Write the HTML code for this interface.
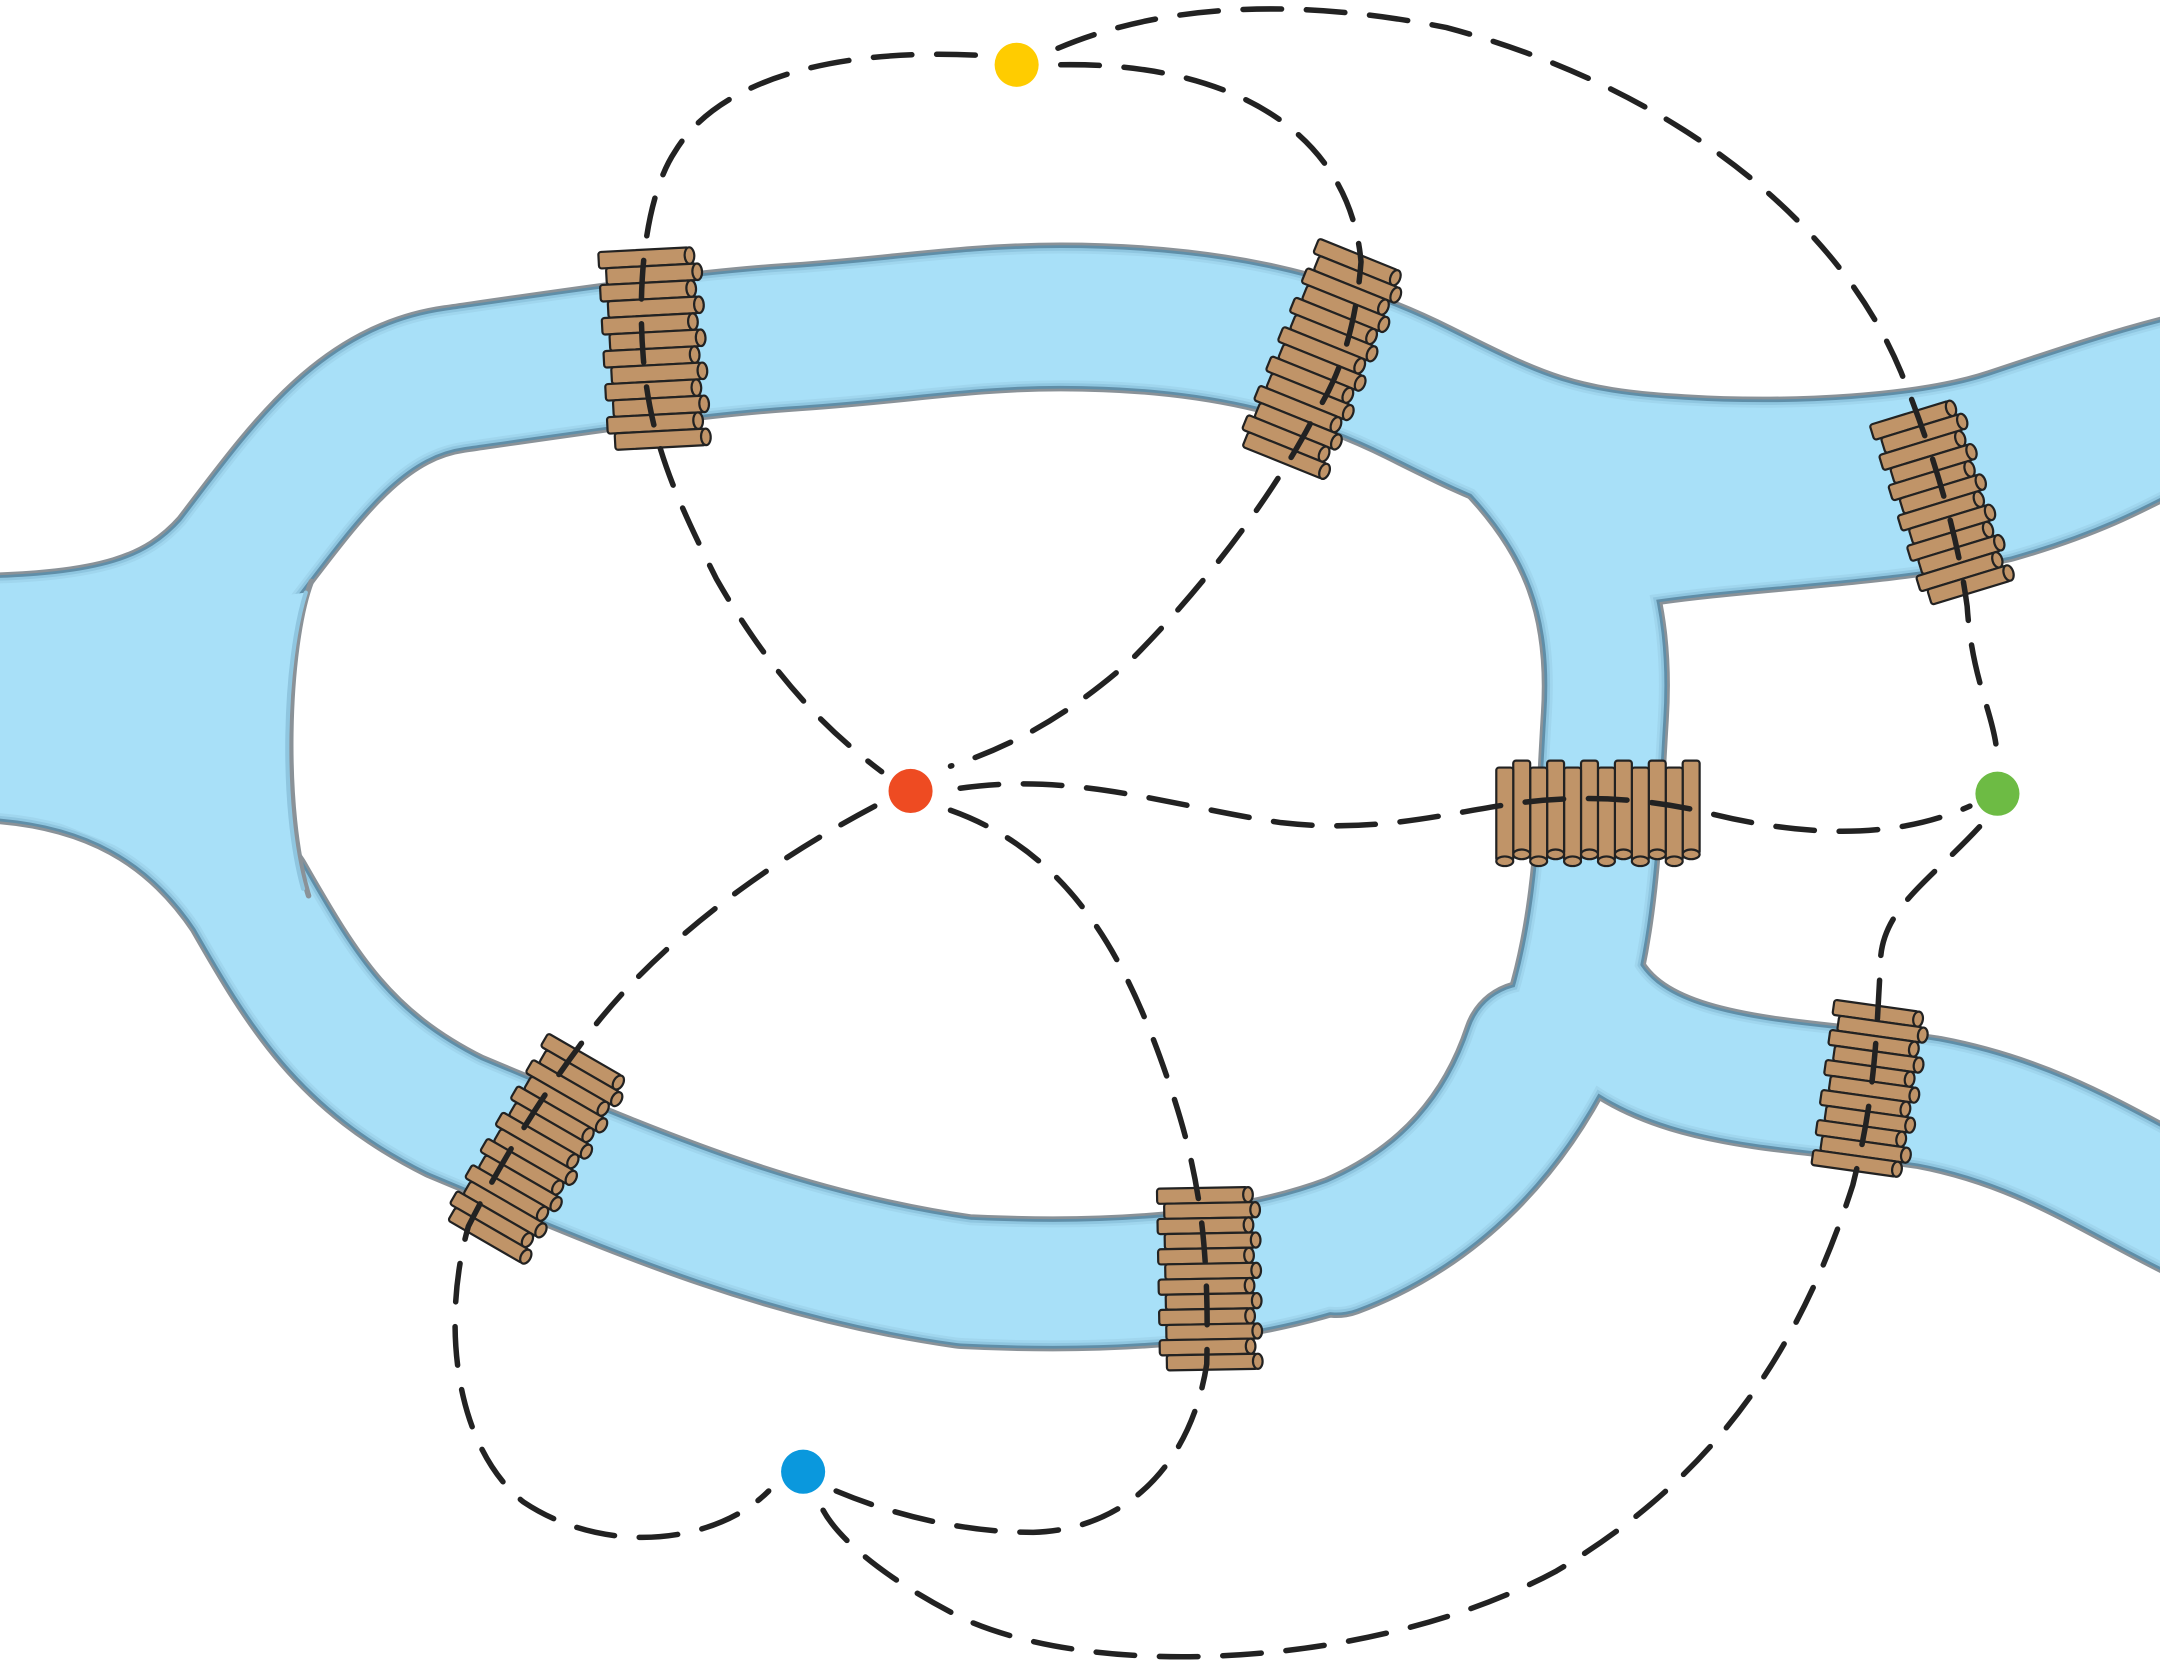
<!DOCTYPE html>
<html><head><meta charset="utf-8"><style>html,body{margin:0;padding:0;background:#fff;}svg{display:block;}</style></head>
<body>
<svg id="s" width="2160" height="1666" viewBox="0 0 1568 1209" preserveAspectRatio="none" xmlns="http://www.w3.org/2000/svg">
<rect width="1568" height="1209" fill="#fff"/>
<g id="river" fill="none" stroke-linecap="round" stroke-linejoin="round"></g>
<g id="bridges"></g>
<g fill="none" stroke="#222" stroke-width="4" stroke-dasharray="28 18" stroke-linecap="round">
<path d="M708,40 C600,35 520,60 490,110 C470,140 462,200 467,260 C472,320 490,360 520,420 C560,490 600,530 640,560"/>
<path d="M770,47 C900,45 980,100 988,190 C985,230 975,270 955,300 C930,350 880,420 820,480 C780,515 740,540 690,556"/>
<path d="M768,35 C850,0 950,0 1050,20 C1200,60 1330,150 1380,270 C1400,320 1420,380 1428,440 C1432,500 1450,520 1450,555"/>
<path d="M697,572 C780,560 850,585 930,597 C1000,605 1050,590 1100,583 C1150,576 1200,580 1240,590 C1300,605 1370,612 1430,585"/>
<path d="M635,585 C550,630 470,690 420,760 C390,800 360,850 340,890 C320,960 330,1050 380,1090 C440,1130 520,1120 558,1082"/>
<path d="M690,588 C780,620 820,700 850,790 C870,850 878,900 876,990 C865,1060 820,1110 750,1112 C700,1112 650,1100 607,1082"/>
<path d="M1437,600 C1400,640 1365,660 1365,700 C1362,760 1360,800 1345,860 C1300,1000 1230,1080 1130,1140 C1000,1210 800,1220 700,1175 C650,1150 610,1120 597,1095"/>
</g>
<circle cx="738" cy="47" r="16" fill="#FFCC00"/>
<circle cx="661" cy="574" r="16" fill="#EE4B22"/>
<circle cx="1450" cy="576" r="16" fill="#6DBB44"/>
<circle cx="583" cy="1068" r="16" fill="#0A98DD"/>
</svg>
<script>
var NS="http://www.w3.org/2000/svg";
var paths=[
 ["M-20,507 L120,505",165],
 ["M-20,470 C80,468 130,455 170,410 C220,345 260,285 330,275 C420,262 500,250 570,245 C650,240 700,230 770,230 C880,230 960,250 1030,285 C1100,320 1130,335 1220,340 C1300,345 1400,340 1460,320 C1520,300 1550,290 1590,280",100],
 ["M-20,548 C80,550 140,590 180,650 C220,720 250,770 330,810 C450,860 560,910 700,930 C800,935 900,930 980,900 C1050,870 1090,820 1110,760",90],
 ["M1090,320 C1150,380 1170,440 1165,520 C1160,600 1160,680 1130,760 C1100,820 1050,880 970,910",85],
 ["M1150,720 C1190,790 1300,785 1400,800 C1480,815 1530,850 1590,880",90],
 ["M1170,400 C1250,385 1350,385 1450,365 C1520,345 1550,325 1590,305",80]
];
var rv=document.getElementById("river");
var layers=[[8,"#8a9298"],[4,"#5f8ea8"],[0,"#8fc6e0"],[-4,"#a0d6ee"],[-8,"#A8E0F8"]];
layers.forEach(function(l,k){paths.forEach(function(p){var e=document.createElementNS(NS,"path");e.setAttribute("d",p[0]);e.setAttribute("stroke",l[1]);e.setAttribute("stroke-width",p[1]+l[0]);rv.appendChild(e);});});
var j=document.createElementNS(NS,"path");j.setAttribute("d","M0,440 L150,440 L222,430 C208,480 205,580 222,645 L150,640 L0,580 Z");j.setAttribute("fill","#A8E0F8");rv.appendChild(j);
var ed=document.createElementNS(NS,"path");ed.setAttribute("d","M226,422 C208,470 205,590 224,650");ed.setAttribute("stroke","#8a9298");ed.setAttribute("stroke-width","4");rv.appendChild(ed);
var ed2=document.createElementNS(NS,"path");ed2.setAttribute("d","M222,430 C206,480 203,585 220,645");ed2.setAttribute("stroke","#8fc6e0");ed2.setAttribute("stroke-width","3");rv.appendChild(ed2);
var bg=document.getElementById("bridges");
function bridge(cx,cy,ang,len,n,h){
 var g=document.createElementNS(NS,"g");g.setAttribute("transform","translate("+cx+","+cy+") rotate("+ang+")");
 var H=n*h;
 for(var i=0;i<n;i++){var y=-H/2+i*h;var dx=(i%2?3:-2);
  var r=document.createElementNS(NS,"rect");r.setAttribute("x",-len/2+dx);r.setAttribute("y",y);r.setAttribute("width",len);r.setAttribute("height",h);r.setAttribute("rx",2);
  r.setAttribute("fill","#C09468");r.setAttribute("stroke","#222");r.setAttribute("stroke-width","1.6");g.appendChild(r);
  var el=document.createElementNS(NS,"ellipse");el.setAttribute("cx",len/2+dx);el.setAttribute("cy",y+h/2);el.setAttribute("rx",3.5);el.setAttribute("ry",h/2);
  el.setAttribute("fill","#C09468");el.setAttribute("stroke","#222");el.setAttribute("stroke-width","1.6");g.appendChild(el);}
 bg.appendChild(g);}
bridge(473,253,-3,66,12,12);
bridge(958,260,22,62,14,11.5);
bridge(1408,365,-17,60,12,11.5);
bridge(1160,588,90,68,12,12.3);
bridge(1356,790,8,62,11,11);
bridge(388,833,30,62,14,11);
bridge(876,928,-1,66,12,11);
</script>
</body></html>
